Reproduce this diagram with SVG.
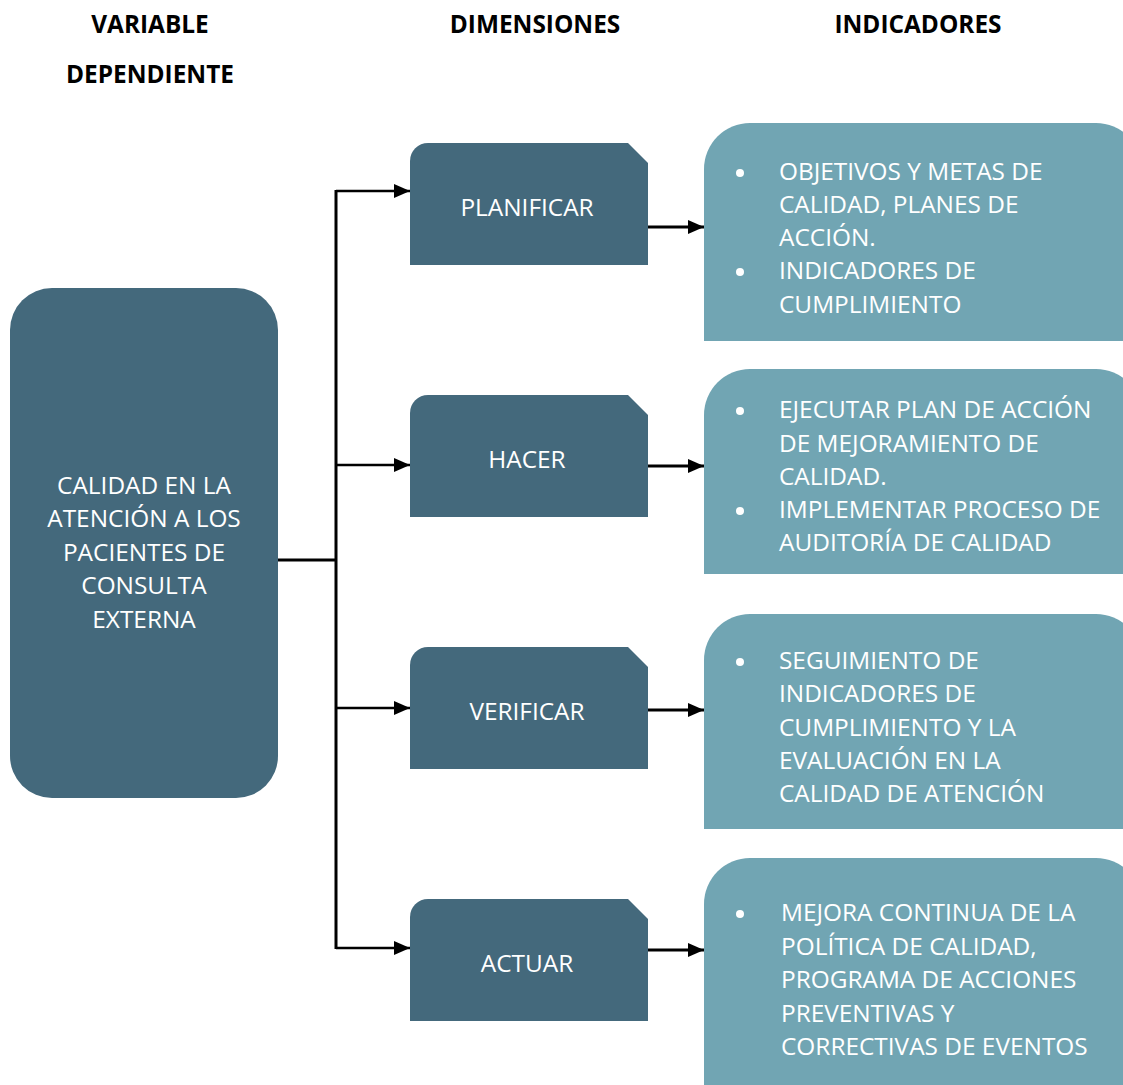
<svg xmlns="http://www.w3.org/2000/svg" width="1123" height="1085" viewBox="0 0 1123 1085">
<defs>
<style>
.hdr{font-family:"Open Sans","DejaVu Sans",sans-serif;font-weight:bold;font-size:24.4px;fill:#000;text-anchor:middle}
.dk{fill:#44697C}
.lt{fill:#71A5B3}
.t{font-family:"Open Sans","DejaVu Sans",sans-serif;font-size:24.4px;fill:#fff}
.c{text-anchor:middle}
.ln{stroke:#000;fill:none}
</style>
<marker id="ah2" viewBox="0 0 10 10" refX="10" refY="5" markerWidth="16" markerHeight="14" markerUnits="userSpaceOnUse" orient="auto" preserveAspectRatio="none">
<path d="M0,0 L10,5 L0,10 Z" fill="#000"/>
</marker>
</defs>
<rect width="1123" height="1085" fill="#fff"/>
<g id="headers">
<text class="hdr" x="150" y="33">VARIABLE</text>
<text class="hdr" x="150" y="83">DEPENDIENTE</text>
<text class="hdr" x="535" y="33">DIMENSIONES</text>
<text class="hdr" x="918" y="33">INDICADORES</text>
</g>
<g id="connectors">
<path class="ln" stroke-width="3" d="M278,560 H336 M336,190 V949"/>
<path class="ln" stroke-width="2.5" marker-end="url(#ah2)" d="M336,191 H410"/>
<path class="ln" stroke-width="2.5" marker-end="url(#ah2)" d="M336,465 H410"/>
<path class="ln" stroke-width="2.5" marker-end="url(#ah2)" d="M336,708 H410"/>
<path class="ln" stroke-width="2.5" marker-end="url(#ah2)" d="M336,948 H410"/>
<path class="ln" stroke-width="3" marker-end="url(#ah2)" d="M648,227 H704"/>
<path class="ln" stroke-width="3" marker-end="url(#ah2)" d="M648,466 H704"/>
<path class="ln" stroke-width="3" marker-end="url(#ah2)" d="M648,710 H704"/>
<path class="ln" stroke-width="3" marker-end="url(#ah2)" d="M648,950 H704"/>
</g>
<g id="variable">
<rect class="dk" x="10" y="288" width="268" height="510" rx="42" ry="42"/>
<text class="t c" x="144" y="494">CALIDAD EN LA</text>
<text class="t c" x="144" y="527">ATENCIÓN A LOS</text>
<text class="t c" x="144" y="561">PACIENTES DE</text>
<text class="t c" x="144" y="594">CONSULTA</text>
<text class="t c" x="144" y="628">EXTERNA</text>
</g>
<g id="planificar">
<path class="dk" d="M428,143 H628 L648,163 V265 H410 V161 A18,18 0 0 1 428,143 Z"/>
<text class="t c" x="527" y="216">PLANIFICAR</text>
</g>
<g id="hacer">
<path class="dk" d="M428,395 H628 L648,415 V517 H410 V413 A18,18 0 0 1 428,395 Z"/>
<text class="t c" x="527" y="468">HACER</text>
</g>
<g id="verificar">
<path class="dk" d="M428,647 H628 L648,667 V769 H410 V665 A18,18 0 0 1 428,647 Z"/>
<text class="t c" x="527" y="720">VERIFICAR</text>
</g>
<g id="actuar">
<path class="dk" d="M428,899 H628 L648,919 V1021 H410 V917 A18,18 0 0 1 428,899 Z"/>
<text class="t c" x="527" y="972">ACTUAR</text>
</g>
<g id="ind1">
<path class="lt" d="M750,123 H1096 A46,46 0 0 1 1142,169 V341 H704 V169 A46,46 0 0 1 750,123 Z"/>
<circle cx="740" cy="173" r="4" fill="#fff"/>
<circle cx="740" cy="272" r="4" fill="#fff"/>
<text class="t" x="779" y="180">OBJETIVOS Y METAS DE</text>
<text class="t" x="779" y="213">CALIDAD, PLANES DE</text>
<text class="t" x="779" y="246">ACCIÓN.</text>
<text class="t" x="779" y="279">INDICADORES DE</text>
<text class="t" x="779" y="313">CUMPLIMIENTO</text>
</g>
<g id="ind2">
<path class="lt" d="M750,369 H1096 A46,46 0 0 1 1142,415 V574 H704 V415 A46,46 0 0 1 750,369 Z"/>
<circle cx="740" cy="411" r="4" fill="#fff"/>
<circle cx="740" cy="511" r="4" fill="#fff"/>
<text class="t" x="779" y="418">EJECUTAR PLAN DE ACCIÓN</text>
<text class="t" x="779" y="452">DE MEJORAMIENTO DE</text>
<text class="t" x="779" y="485">CALIDAD.</text>
<text class="t" x="779" y="518">IMPLEMENTAR PROCESO DE</text>
<text class="t" x="779" y="551">AUDITORÍA DE CALIDAD</text>
</g>
<g id="ind3">
<path class="lt" d="M750,614 H1096 A46,46 0 0 1 1142,660 V829 H704 V660 A46,46 0 0 1 750,614 Z"/>
<circle cx="740" cy="662" r="4" fill="#fff"/>
<text class="t" x="779" y="669">SEGUIMIENTO DE</text>
<text class="t" x="779" y="702">INDICADORES DE</text>
<text class="t" x="779" y="736">CUMPLIMIENTO Y LA</text>
<text class="t" x="779" y="769">EVALUACIÓN EN LA</text>
<text class="t" x="779" y="802">CALIDAD DE ATENCIÓN</text>
</g>
<g id="ind4">
<path class="lt" d="M750,858 H1096 A46,46 0 0 1 1142,904 V1085 H704 V904 A46,46 0 0 1 750,858 Z"/>
<circle cx="740" cy="914" r="4" fill="#fff"/>
<text class="t" x="781" y="921">MEJORA CONTINUA DE LA</text>
<text class="t" x="781" y="955">POLÍTICA DE CALIDAD,</text>
<text class="t" x="781" y="988">PROGRAMA DE ACCIONES</text>
<text class="t" x="781" y="1022">PREVENTIVAS Y</text>
<text class="t" x="781" y="1055">CORRECTIVAS DE EVENTOS</text>
</g>
</svg>
